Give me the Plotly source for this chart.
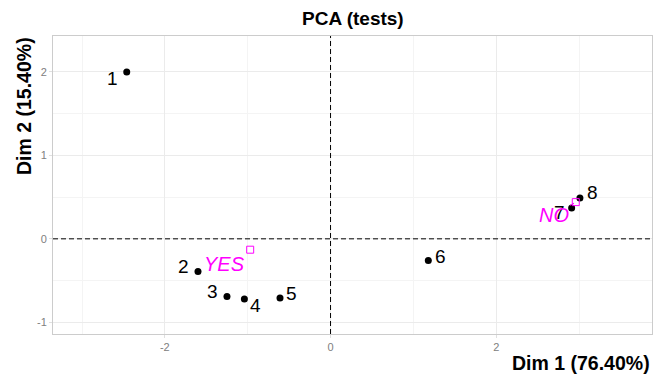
import plotly.graph_objects as go

# ---- data ----
ind_labels = ["1", "2", "3", "4", "5", "6", "7", "8"]
dim1 = [-2.46, -1.60, -1.25, -1.04, -0.61, 1.18, 2.91, 3.01]
dim2 = [2.00, -0.39, -0.69, -0.72, -0.71, -0.26, 0.37, 0.49]

cat_labels = ["YES", "NO"]
cat_dim1 = [-0.97, 2.96]
cat_dim2 = [-0.13, 0.44]

title_text = "PCA (tests)"
x_title = "Dim 1 (76.40%)"
y_title = "Dim 2 (15.40%)"
x_ticks = [-2, 0, 2]
y_ticks = [-1, 0, 1, 2]

# ---- styling (label offsets in pixels) ----
ind_label_shift = [(-14, -7), (-14, 5), (-14, 5), (11, -7), (11, 5), (12, 4), (-12, -5), (13, 5)]
cat_label_shift = {"YES": (-26, -14)}
FONT = "Liberation Sans, Arial, sans-serif"
MAGENTA = "#FF00FF"

fig = go.Figure()

fig.add_trace(go.Scatter(
    x=dim1, y=dim2, mode="markers",
    marker=dict(color="black", size=7),
    hoverinfo="skip", showlegend=False,
))
fig.add_trace(go.Scatter(
    x=cat_dim1, y=cat_dim2, mode="markers",
    marker=dict(symbol="square-open", color=MAGENTA, size=7, line=dict(width=1)),
    hoverinfo="skip", showlegend=False,
))

annotations = []
for lab, xv, yv, (dx, dy) in zip(ind_labels, dim1, dim2, ind_label_shift):
    annotations.append(dict(x=xv, y=yv, text=lab, showarrow=False,
                            xshift=dx, yshift=dy,
                            font=dict(family=FONT, size=19, color="black")))
for lab, xv, yv in zip(cat_labels, cat_dim1, cat_dim2):
    if lab in cat_label_shift:
        dx, dy = cat_label_shift[lab]
        annotations.append(dict(x=xv, y=yv, text="<i>%s</i>" % lab, showarrow=False,
                                xshift=dx, yshift=dy,
                                font=dict(family=FONT, size=20, color=MAGENTA)))
    else:
        annotations.append(dict(x=xv, y=yv, text="<i>%s</i>" % lab, showarrow=True,
                                ax=-22, ay=13, arrowhead=0, arrowwidth=1,
                                arrowcolor=MAGENTA, standoff=2,
                                font=dict(family=FONT, size=20, color=MAGENTA)))

# title and axis titles
annotations.append(dict(xref="paper", yref="paper", x=0.5, y=1, xanchor="center",
                        yanchor="bottom", yshift=5, showarrow=False,
                        text="<b>%s</b>" % title_text,
                        font=dict(family=FONT, size=19, color="black")))
annotations.append(dict(xref="paper", yref="paper", x=1, y=0, xanchor="right",
                        yanchor="top", yshift=-16, showarrow=False,
                        text="<b>%s</b>" % x_title,
                        font=dict(family=FONT, size=19.5, color="black")))
annotations.append(dict(xref="paper", yref="paper", x=0, y=1, xanchor="center",
                        yanchor="top", xshift=-29, yshift=1, showarrow=False,
                        textangle=-90, text="<b>%s</b>" % y_title,
                        font=dict(family=FONT, size=19.5, color="black")))

shapes = [
    dict(type="line", xref="x", yref="paper", x0=0, x1=0, y0=0, y1=1,
         line=dict(color="black", width=1, dash="5px,3px")),
    dict(type="line", xref="paper", yref="y", x0=0, x1=1, y0=0, y1=0,
         line=dict(color="black", width=1, dash="5px,3px")),
]

# the page body adds an 8px margin, so the figure is 8px smaller on each axis
fig.update_layout(
    width=657, height=368,
    margin=dict(l=45, r=13, t=28, b=42),
    paper_bgcolor="white", plot_bgcolor="white",
    font=dict(family=FONT),
    annotations=annotations, shapes=shapes,
    showlegend=False,
)
fig.update_xaxes(
    range=[-3.35, 3.88], tickvals=x_ticks, ticktext=[str(v) for v in x_ticks],
    showgrid=True, gridcolor="#ebebeb", gridwidth=1,
    minor=dict(dtick=1, tick0=1, showgrid=True, gridcolor="#f4f4f4", gridwidth=1),
    zeroline=False, showline=True, mirror=True, linecolor="#cccccc", linewidth=1,
    ticks="outside", ticklen=3, tickcolor="#e0e0e0",
    tickfont=dict(family=FONT, size=11, color="#808080"),
)
fig.update_yaxes(
    range=[-1.14, 2.43], tickvals=y_ticks, ticktext=[str(v) for v in y_ticks],
    showgrid=True, gridcolor="#ebebeb", gridwidth=1,
    minor=dict(dtick=0.5, tick0=0.5, showgrid=True, gridcolor="#f4f4f4", gridwidth=1),
    zeroline=False, showline=True, mirror=True, linecolor="#cccccc", linewidth=1,
    ticks="outside", ticklen=3, tickcolor="#e0e0e0",
    tickfont=dict(family=FONT, size=11, color="#808080"),
)

fig.write_html("out.html")
